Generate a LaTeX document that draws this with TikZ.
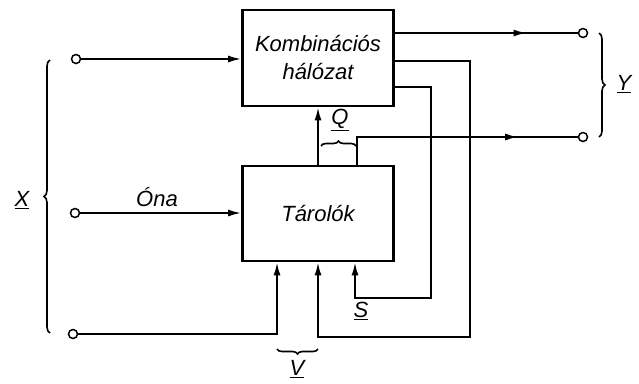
\documentclass[tikz,border=0pt]{standalone}
\usepackage{fontspec}
\setmainfont{Liberation Sans}
\usetikzlibrary{arrows.meta,decorations.pathreplacing,decorations.markings}
\begin{document}
\begin{tikzpicture}[x=1pt,y=-1pt,
 box/.style={draw,line width=2.8pt,inner sep=0,minimum width=151pt,align=center},
 wire/.style={line width=1.8pt},
 arr/.style={wire,-{Latex[length=13pt,width=7pt]}},
 midarr/.style={wire,decoration={markings,mark=at position #1 with {\arrow{Latex[length=13pt,width=7pt]}}},postaction={decorate}},
 term/.style={circle,draw,line width=1.5pt,fill=white,minimum size=9pt,inner sep=0},
 lbl/.style={font=\fontsize{22}{28}\selectfont\itshape},
 br/.style={decorate,decoration={brace,amplitude=6pt},line width=1.6pt}]
\useasboundingbox (0,0) rectangle (639,383);

\node[box,lbl,minimum height=96pt] (K) at (318,58) {Kombinációs\\hálózat};
\node[box,lbl,minimum height=95pt] (T) at (318,213.5) {Tárolók};

\node[term] (X1) at (76,59) {};
\node[term] (X2) at (75,213) {};
\node[term] (X3) at (73,334) {};
\node[term] (Y1) at (583,33) {};
\node[term] (Y2) at (583,137) {};

% inputs
\draw[arr] (X1) -- (X1 -| K.west);
\draw[arr] (X2) -- (X2 -| T.west);
\draw[arr] (X3) -| ([xshift=-41pt]T.south);

% Q
\draw[arr] (T.north) -- (K.south);

% outputs
\draw[midarr=0.72] (Y1 -| K.east) -- (Y1);
\draw[midarr=0.76] ([xshift=39pt]T.north) |- (Y2);

% feedback
\draw[arr] (K.east |- 0,61) -| (470,337) -| (T.south);
\draw[arr] (K.east |- 0,87) -| (431,298) -| ([xshift=37pt]T.south);

% braces
\draw[br] (50,333) -- (50,60);
\draw[br] (599,33) -- (599,137);
\draw[br,decoration={amplitude=5pt}] (321,146) -- (356,146);
\draw[br,decoration={amplitude=5pt}] (318,349) -- (277,349);

% labels
\node[lbl] (lX) at (22,200) {\underline{X}};
\node[lbl] (lY) at (624,84) {\underline{Y}};
\node[lbl] (lQ) at (340,120) {\underline{Q}};
\node[lbl] (lS) at (361,311) {\underline{S}};
\node[lbl] (lV) at (297,369) {\underline{V}};
\node[lbl] (lO) at (157,197) {Óna};
\end{tikzpicture}
\end{document}
